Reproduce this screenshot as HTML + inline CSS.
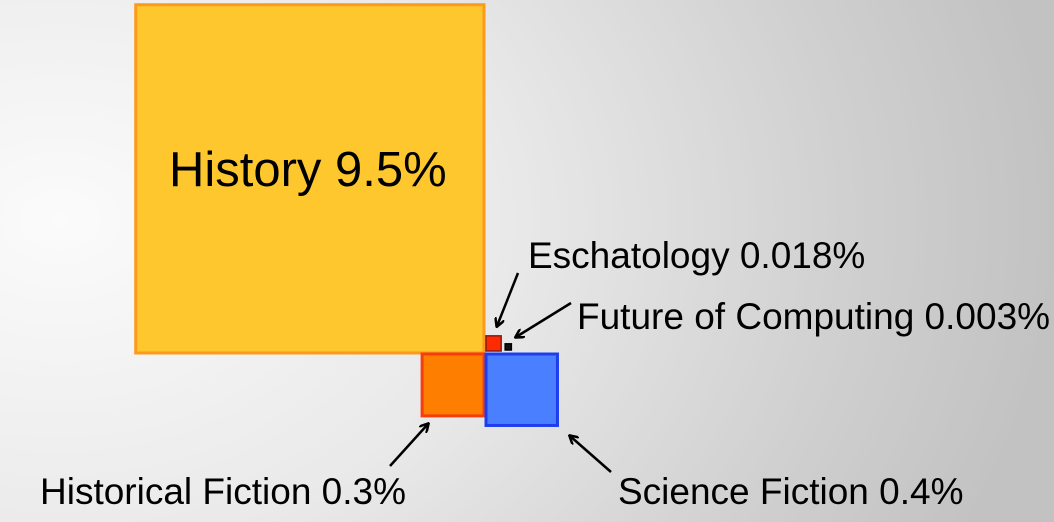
<!DOCTYPE html>
<html><head><meta charset="utf-8"><style>
html,body{margin:0;padding:0;}
body{width:1054px;height:522px;overflow:hidden;background:radial-gradient(ellipse 1000px 750px at 60px 220px,#fbfbfb 0%,#e9e9e9 45%,#cfcfcf 80%,#c2c2c2 100%);font-family:"Liberation Sans",sans-serif;}
svg{display:block}
</style></head><body>
<svg id="chart" width="1054" height="522">
<defs><marker id="ah" markerWidth="10" markerHeight="10" refX="8" refY="5" orient="auto" markerUnits="userSpaceOnUse"><path d="M0,0 L9,5 L0,10" fill="none" stroke="#000" stroke-width="2.5"/></marker></defs>
<g id="marks"></g>
</svg>
<script>
const categories=["History","Historical Fiction","Science Fiction","Eschatology","Future of Computing"];
const values=[9.5,0.3,0.4,0.018,0.003];
const labels=["9.5%","0.3%","0.4%","0.018%","0.003%"];
const fills=["#fec72e","#fe7f00","#4a80ff","#fe2a00","#111"];
const strokes=["#fc9a1c","#f63c10","#1c3ef0","#8a1a0a","#000"];
const k=113;
function side(v){return k*Math.sqrt(v);}
const g=document.getElementById('marks');
const NS='http://www.w3.org/2000/svg';
function mk(t,a){const e=document.createElementNS(NS,t);for(const n in a)e.setAttribute(n,a[n]);g.appendChild(e);return e;}
const cx=484,cy=353;
const s=values.map(side);
const rects=[
 [cx-s[0],cy-s[0]],
 [cx-s[1],cy+1],
 [cx+2,cy+1],
 [cx+2,cy-2-s[3]],
 [cx+2+s[3]+4,cy-3-s[4]]
];
for(let i=0;i<values.length;i++){
 const r=mk('rect',{x:rects[i][0],y:rects[i][1],width:s[i],height:s[i],fill:fills[i],stroke:strokes[i],'stroke-width':i<3?3:1.5});
 
 
}
const t0=mk('text',{x:rects[0][0]+s[0]/2-2,y:rects[0][1]+s[0]/2-6,'text-anchor':'middle','dominant-baseline':'middle','font-size':49,fill:'#000'});
t0.textContent=categories[0]+' '+labels[0];


const lab=[[1,40,504],[2,618,504],[3,528,268],[4,577,329]];
lab.forEach(([i,x,y])=>{const t=mk('text',{x:x,y:y,'font-size':37,fill:'#000'});t.textContent=categories[i]+' '+labels[i];
 
 });
const arrows=[[390,466,428,424],[611,472,570,436],[518,273,497,326],[571,303,516,337]];
arrows.forEach((a,j)=>{const l=mk('line',{x1:a[0],y1:a[1],x2:a[2],y2:a[3],stroke:'#000','stroke-width':2.5,'marker-end':'url(#ah)'});
 
 });
</script>
</body></html>
